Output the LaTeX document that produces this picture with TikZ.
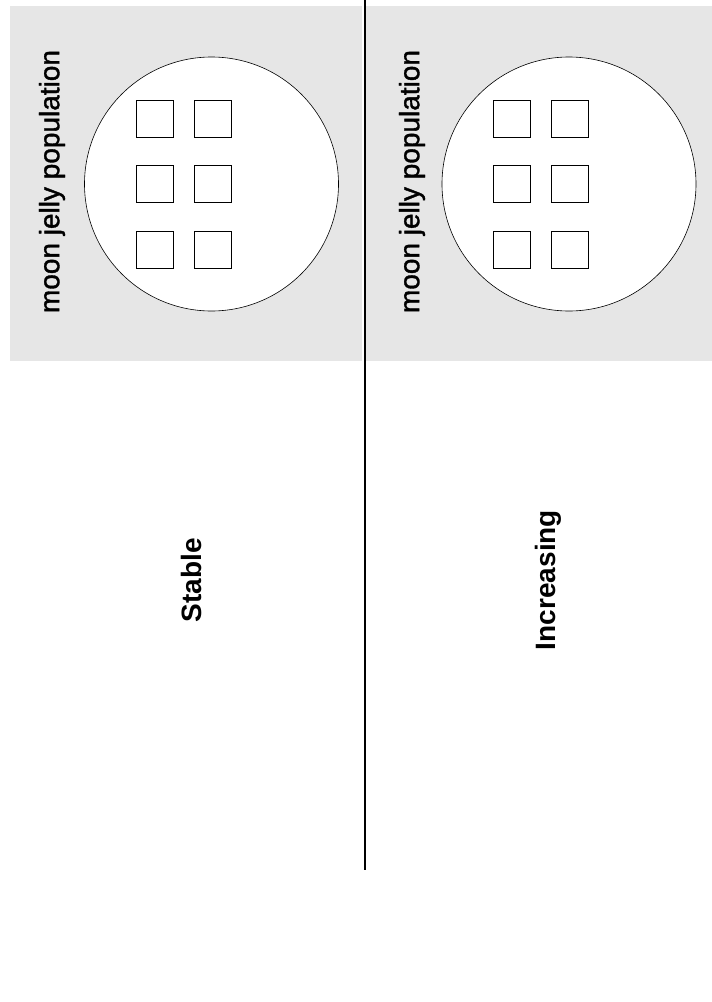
\documentclass[tikz,border=0pt]{standalone}
\usepackage{fontspec}
\setmainfont{Liberation Sans}
\newfontfamily\medfont[FakeBold=1.3]{Liberation Sans}
\usetikzlibrary{positioning}
\definecolor{colPanel}{RGB}{230,230,230}

\begin{document}
\begin{tikzpicture}[
            x=1pt, y=1pt,
            panel/.style={rectangle, fill=colPanel, draw=none, inner sep=0pt},
            dish/.style={circle, draw, fill=white, line width=0.6pt, minimum size=254pt, inner sep=0pt},
            jelly/.style={rectangle, draw, line width=0.6pt, fill=white, minimum size=37pt, inner sep=0pt},
            lbl/.style={font=\medfont\fontsize{28}{32}\selectfont, rotate=90, inner sep=0pt},
            trend/.style={font=\fontsize{28}{32}\selectfont\bfseries, rotate=90, inner sep=0pt}
        ]
        \useasboundingbox (0,0) rectangle (712,-1002);

        %% ── PANNEAUX GRIS ──────────────────────────
        \node[panel, minimum width=352pt, minimum height=355pt] (panelL) at (186,-183.5) {};
        \node[panel, minimum width=346pt, minimum height=355pt] (panelR) at (539,-183.5) {};

        %% ── SÉPARATION ──────────────────────────
        \coordinate (divTop) at (365,0);
        \coordinate (divBot) at (365,-870);
        \draw[line width=1.6pt] (divTop) -- (divBot);

        %% ── CERCLES ET CARRÉS ──────────────────────────
        \node[dish] (circL) at (211.5,-184) {};
        \node[dish] (circR) at (569,-184) {};

        \foreach \r/\y in {1/-118.5, 2/-183.5, 3/-249.5} {
            \node[jelly] (sqL\r a) at (155,\y) {};
            \node[jelly] (sqL\r b) at (213,\y) {};
            \node[jelly] (sqR\r a) at (512,\y) {};
            \node[jelly] (sqR\r b) at (570,\y) {};
        }

        %% ── TEXTES ──────────────────────────
        \node[lbl] (titleL) at (52,-181.5) {moon jelly population};
        \node[lbl] (titleR) at (412,-181.5) {moon jelly population};

        \node[trend] (stable) at (191,-580) {Stable};
        \node[trend] (increasing) at (548,-580) {Increasing};

\end{tikzpicture}
\end{document}
